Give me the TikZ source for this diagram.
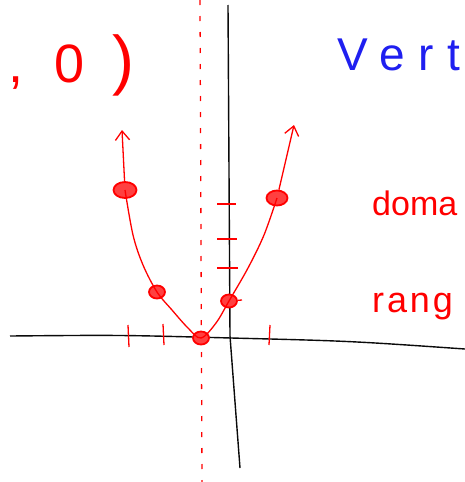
\documentclass[tikz,border=0pt]{standalone}
\usepackage{fontspec}
\setmainfont{Liberation Sans}
\newfontfamily\handfont[LetterSpace=30]{Liberation Sans}
\newfontfamily\tightfont[LetterSpace=8]{Liberation Sans}
\usepackage{tikz}
\usetikzlibrary{arrows.meta,shapes.geometric}
\definecolor{pen}{HTML}{FF0000}
\definecolor{ink}{HTML}{0A0A0A}
\definecolor{note}{HTML}{1F1FF0}

\begin{document}
\begin{tikzpicture}[
  x=1pt,y=-1pt,
  axis/.style={draw=ink,line width=1.4pt},
  curve/.style={draw=pen,line width=1.3pt},
  arrow/.style={curve,-{Straight Barb[length=3.2mm,width=5mm]}},
  tick/.style={draw=pen,line width=1.3pt},
  dot/.style={ellipse,draw=pen,line width=1.8pt,fill=pen!75,minimum width=16pt,minimum height=13pt,inner sep=0pt},
  sym/.style={draw=pen,line width=1.3pt,dash pattern=on 5pt off 11pt},
  word/.style={anchor=base west,inner sep=0pt,text=pen,font=\tightfont\fontsize{36}{40}\selectfont}
]
\useasboundingbox (0,0) rectangle (465,482);
% axes
\coordinate (xl) at (10,336);
\coordinate (xm) at (231,338);
\coordinate (xr) at (465,349);
\coordinate (yt) at (228,5);
\coordinate (ym) at (230,336);
\coordinate (yb) at (240,468);
\draw[axis] (xl) .. controls (120,335) .. (xm) .. controls (350,341) .. (xr);
\draw[axis] (yt) -- (ym) -- (yb);
% axis of symmetry
\coordinate (st) at (200,0);
\coordinate (sb) at (202,482);
\draw[sym] (st) -- (sb);
% points on the parabola
\node[dot,minimum width=23pt,minimum height=16pt] (p1) at (125,190) {};
\node[dot] (p2) at (157,292) {};
\node[dot] (vx) at (201,338) {};
\node[dot] (p4) at (229,301) {};
\node[dot,minimum width=21pt,minimum height=15pt] (p5) at (277,198) {};
\coordinate (lt) at (122,130);
\coordinate (rt) at (294,125);
\draw[curve] plot[smooth,tension=0.55] coordinates {(p1) (133,235) (143,265) (p2) (172,310) (188,328) (vx) (216,323) (p4) (248,268) (264,235) (p5)};
\draw[arrow] (p1) -- (lt);
\draw[arrow] (p5) -- (rt);
% ticks
\draw[tick] (128,325) -- (129,347);
\draw[tick] (163,324) -- (164,345);
\draw[tick] (270,325) -- (269,345);
\draw[tick] (217,204) -- (236,204);
\draw[tick] (217,239) -- (237,239);
\draw[tick] (217,268) -- (238,268);
\draw[tick] (p4) -- (242,300);
% notes
\node[word,font=\handfont\fontsize{54}{60}\selectfont] (vtx) at (8,82) {, 0\hspace{28pt}{\fontsize{66}{70}\selectfont)}};
\node[word,text=note,font=\handfont\fontsize{46}{50}\selectfont] (vert) at (337,70) {Vert};
\node[word,font=\setmainfont{Liberation Sans}\fontsize{34}{40}\selectfont] (dom) at (372,215) {doma};
\node[word] (rng) at (372,312) {rang};
\end{tikzpicture}
\end{document}
